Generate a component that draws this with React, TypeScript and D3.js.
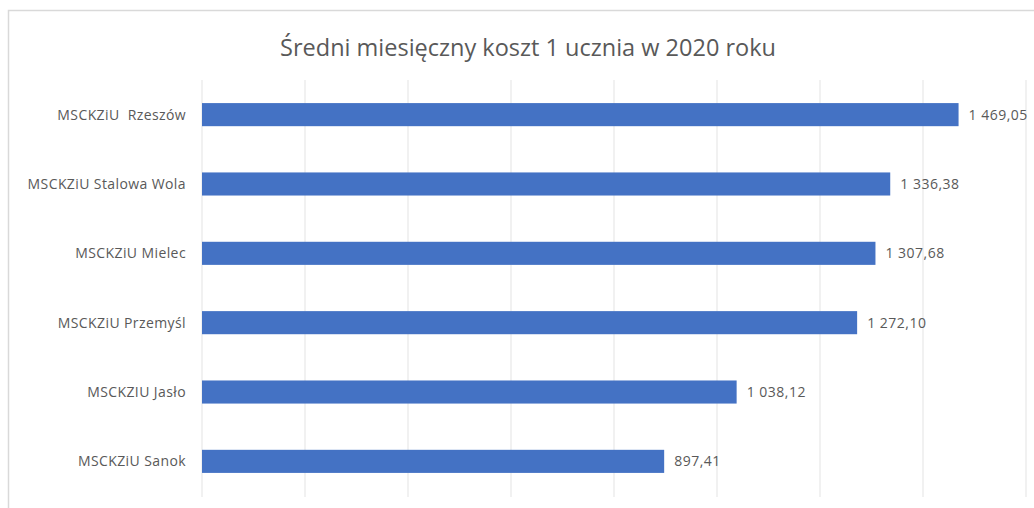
import * as d3 from 'd3'

const categories = [
  'MSCKZiU  Rzeszów',
  'MSCKZiU Stalowa Wola',
  'MSCKZiU Mielec',
  'MSCKZiU Przemyśl',
  'MSCKZIU Jasło',
  'MSCKZiU Sanok',
]
const values = [1469.05, 1336.38, 1307.68, 1272.1, 1038.12, 897.41]
const xTicks = [0, 200, 400, 600, 800, 1000, 1200, 1400, 1600]
const title = 'Średni miesięczny koszt 1 ucznia w 2020 roku'

const width = 1034
const height = 508
const margin = { top: 80, right: 8, bottom: 12, left: 202 }

const plFormat = d3.formatLocale({
  decimal: ',',
  thousands: '\u00a0',
  grouping: [3],
  currency: ['', ''],
}).format(',.2f')

export default function App() {
  const x = d3.scaleLinear()
    .domain([0, 1600])
    .range([margin.left, 1026])

  const y = d3.scaleBand()
    .domain(categories)
    .range([margin.top, height - margin.bottom])
    .paddingInner(0.667)
    .paddingOuter(0.333)

  const font = '"Open Sans", "Noto Sans", sans-serif'

  return (
    <div style={{ position: 'fixed', left: 0, top: 0, width, height, background: '#fff' }}>
      <svg width={width} height={height} style={{ display: 'block' }}>
        <rect x={8.5} y={10.5} width={width + 10} height={height + 10} fill="#fff" stroke="#d9d9d9" strokeWidth={1.5} />

        <text
          x={528}
          y={56}
          textAnchor="middle"
          fill="#595959"
          fontFamily={font}
          fontSize={23.5}
        >
          {title}
        </text>

        {/* gridlines */}
        {xTicks.map(t => (
          <line
            key={t}
            x1={x(t)}
            x2={x(t)}
            y1={margin.top}
            y2={height - 11}
            stroke="#e3e3e3"
            strokeWidth={1}
          />
        ))}

        {/* bars */}
        {categories.map((c, i) => (
          <g key={c}>
            <rect
              x={x(0)}
              y={y(c)!}
              width={x(values[i]) - x(0)}
              height={y.bandwidth()}
              fill="#4472c4"
            />
            <text
              x={x(values[i]) + 10}
              y={y(c)! + y.bandwidth() / 2}
              dy="0.35em"
              fill="#595959"
              fontFamily={font}
              fontSize={14}
              letterSpacing={0.5}
            >
              {plFormat(values[i])}
            </text>
            <text
              x={186}
              y={y(c)! + y.bandwidth() / 2}
              dy="0.35em"
              textAnchor="end"
              fill="#595959"
              fontFamily={font}
              fontSize={14}
              letterSpacing={0.4}
              style={{ whiteSpace: 'pre' }}
            >
              {c}
            </text>
          </g>
        ))}
      </svg>
    </div>
  )
}
